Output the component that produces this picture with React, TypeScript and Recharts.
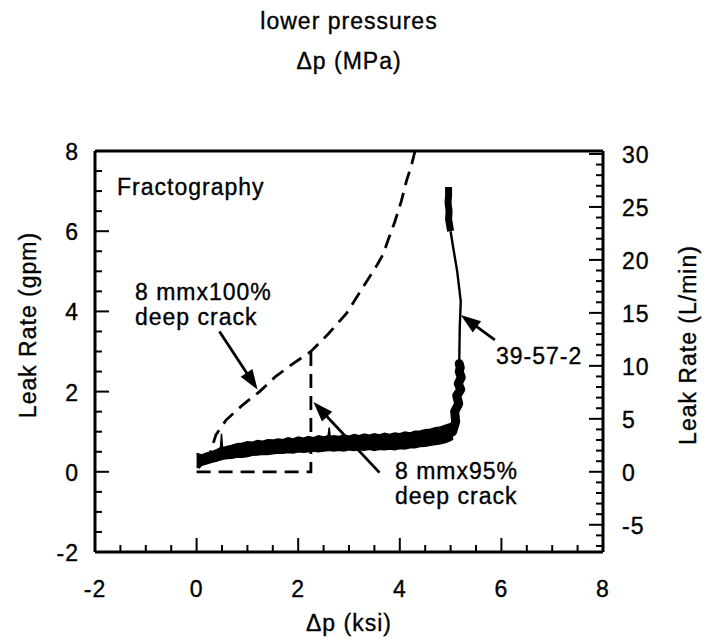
import React from 'react';
import { ComposedChart, Line, Area, XAxis, YAxis, ReferenceLine, Customized } from 'recharts';

// ---------- data (Δp in ksi, leak rate in gpm) ----------
// 39-57-2 measured leak rate: noisy band at low pressure (lower / upper edge of the band)
const bandX = [0.0, 0.05, 0.1, 0.2, 0.3, 0.4, 0.47, 0.49, 0.51, 0.6, 0.7, 0.8, 0.9, 1.0, 1.1, 1.2, 1.3, 1.4, 1.5, 1.6, 1.7, 1.8, 1.9, 2.0, 2.1, 2.2, 2.3, 2.4, 2.5, 2.59, 2.61, 2.63, 2.7, 2.8, 2.9, 3.0, 3.1, 3.2, 3.3, 3.4, 3.5, 3.6, 3.7, 3.8, 3.9, 4.0, 4.1, 4.2, 4.3, 4.4, 4.5, 4.6, 4.7, 4.8, 4.9, 5.0, 5.05];
const bandLow = [0.12, 0.1, 0.16, 0.2, 0.24, 0.27, 0.3, 0.3, 0.31, 0.33, 0.34, 0.37, 0.36, 0.38, 0.41, 0.42, 0.44, 0.43, 0.45, 0.47, 0.46, 0.48, 0.47, 0.5, 0.49, 0.5, 0.52, 0.5, 0.52, 0.53, 0.53, 0.53, 0.52, 0.54, 0.52, 0.55, 0.53, 0.55, 0.54, 0.56, 0.53, 0.56, 0.55, 0.57, 0.55, 0.58, 0.57, 0.6, 0.6, 0.63, 0.64, 0.66, 0.68, 0.7, 0.73, 0.78, 0.82];
const bandHigh = [0.46, 0.44, 0.42, 0.47, 0.5, 0.55, 0.6, 0.95, 0.6, 0.63, 0.66, 0.7, 0.71, 0.75, 0.74, 0.78, 0.76, 0.8, 0.79, 0.82, 0.8, 0.85, 0.82, 0.87, 0.84, 0.88, 0.85, 0.9, 0.87, 0.9, 1.1, 0.88, 0.9, 0.88, 0.92, 0.89, 0.93, 0.9, 0.94, 0.91, 0.95, 0.92, 0.96, 0.93, 0.97, 0.95, 0.99, 0.97, 1.01, 1.02, 1.05, 1.06, 1.1, 1.12, 1.16, 1.2, 1.15];
// steep rise near 5.1 ksi
const riseX = [5.04, 5.1, 5.08, 5.16, 5.12, 5.2, 5.15, 5.21, 5.17, 5.19, 5.17];
const riseY = [1.0, 1.25, 1.5, 1.7, 1.9, 2.05, 2.2, 2.35, 2.5, 2.6, 2.7];
// thin upper part
const upperX = [5.17, 5.18, 5.2, 5.13, 5.05, 5.0];
const upperY = [2.7, 3.6, 4.25, 5.0, 5.6, 6.0];
// top blob
const topX = [5.0, 4.96, 4.97, 4.95, 4.96, 4.96];
const topY = [6.0, 6.3, 6.5, 6.7, 6.9, 7.1];

// 8 mm x 100% deep crack (fractography)
const crack100X = [0.2, 0.3, 0.38, 0.58, 0.91, 1.24, 1.54, 1.9, 2.25, 2.6, 2.95, 3.2, 3.4, 3.55, 3.67, 3.77, 3.9, 4.03, 4.13, 4.22, 4.3];
const crack100Y = [0.2, 0.6, 0.92, 1.29, 1.67, 2.0, 2.36, 2.7, 3.0, 3.45, 3.95, 4.45, 4.85, 5.15, 5.42, 5.78, 6.23, 6.75, 7.25, 7.6, 8.0];
// 8 mm x 95% deep crack
const crack95X = [0, 2.25, 2.25];
const crack95Y = [0, 0, 3.0];

// annotation arrows [fromX, fromY, toX, toY]
const arrow100 = [0.45, 3.5, 1.2, 2.05];
const arrow95 = [3.6, -0.02, 2.3, 1.74];
const arrow39 = [5.87, 3.29, 5.2, 3.91];

// ---------- axes ----------
const ksiTicks = [-2, -1.5, -1, -0.5, 0, 0.5, 1, 1.5, 2, 2.5, 3, 3.5, 4, 4.5, 5, 5.5, 6, 6.5, 7, 7.5, 8];
const ksiMajor = [-2, 0, 2, 4, 6, 8];
const gpmTicks = [-2, -1.5, -1, -0.5, 0, 0.5, 1, 1.5, 2, 2.5, 3, 3.5, 4, 4.5, 5, 5.5, 6, 6.5, 7, 7.5, 8];
const gpmMajor = [-2, 0, 2, 4, 6, 8];
const mpaTicks = [-12, -10, -8, -6, -4, -2, 0, 2, 4, 6, 8, 10, 12, 14, 16, 18, 20, 22, 24, 26, 28, 30, 32, 34, 36, 38, 40, 42, 44, 46, 48, 50, 52, 54];
const mpaMajor = [-8, 0, 8, 16, 24, 32, 40, 48];
const lpmTicks = [-7, -6, -5, -4, -3, -2, -1, 0, 1, 2, 3, 4, 5, 6, 7, 8, 9, 10, 11, 12, 13, 14, 15, 16, 17, 18, 19, 20, 21, 22, 23, 24, 25, 26, 27, 28, 29, 30];
const lpmMajor = [-5, 0, 5, 10, 15, 20, 25, 30];

const KSI_TO_MPA = 6.895;
const GPM_TO_LPM = 3.785;

const pts = (xs: number[], ys: number[]) => xs.map((x, i) => ({ x, y: ys[i] }));
const bandData = bandX.map((x, i) => ({ x, r: [bandLow[i], bandHigh[i]] }));

// ---------- layout ----------
const W = 705, H = 642;
const PL = 95, PR = 603, PT = 151, PB = 552;
const FONT = "'Liberation Sans', Arial, sans-serif";
const txt = { fontFamily: FONT, fontSize: 23, letterSpacing: 1, fill: '#000', stroke: '#000', strokeWidth: 0.35 } as const;

const MAJ = 14, MIN = 7;

const TickBottom = (p: any) => {
  const v = p.payload.value; const x = p.x; const major = ksiMajor.includes(v);
  return (
    <g>
      <line x1={x} x2={x} y1={PB} y2={PB - (major ? MAJ : MIN)} stroke="#000" strokeWidth={2} />
      {major && <text x={x} y={597} textAnchor="middle" {...txt}>{v}</text>}
    </g>
  );
};
const TickTop = (p: any) => {
  const v = p.payload.value; const x = p.x; const major = mpaMajor.includes(v);
  return (
    <g>
      <line x1={x} x2={x} y1={PT} y2={PT + (major ? MAJ : MIN)} stroke="#000" strokeWidth={2} />
      {major && <text x={x} y={126} textAnchor="middle" {...txt}>{v}</text>}
    </g>
  );
};
const TickLeft = (p: any) => {
  const v = p.payload.value; const y = p.y; const major = gpmMajor.includes(v);
  return (
    <g>
      <line x1={PL} x2={PL + (major ? MAJ : MIN)} y1={y} y2={y} stroke="#000" strokeWidth={2} />
      {major && <text x={79} y={y + 9} textAnchor="end" {...txt}>{v}</text>}
    </g>
  );
};
const TickRight = (p: any) => {
  const v = p.payload.value; const y = p.y; const major = lpmMajor.includes(v);
  return (
    <g>
      <line x1={PR} x2={PR - (major ? MAJ : MIN)} y1={y} y2={y} stroke="#000" strokeWidth={2} />
      {major && <text x={622} y={y + 9} textAnchor="start" {...txt}>{v}</text>}
    </g>
  );
};

const ArrowShape = (p: any) => {
  const { x1, y1, x2, y2 } = p;
  const dx = x2 - x1, dy = y2 - y1;
  const len = Math.sqrt(dx * dx + dy * dy) || 1;
  const ux = dx / len, uy = dy / len;
  const hl = 20, hw = 7;
  const bx = x2 - ux * hl, by = y2 - uy * hl;
  const pts2 = `${x2},${y2} ${bx - uy * hw},${by + ux * hw} ${bx + uy * hw},${by - ux * hw}`;
  return (
    <g>
      <line x1={x1} y1={y1} x2={bx + ux * 2} y2={by + uy * 2} stroke="#000" strokeWidth={2.8} />
      <polygon points={pts2} fill="#000" />
    </g>
  );
};

const Texts = () => (
  <g>
    <text x={349} y={29} textAnchor="middle" {...txt}>lower pressures</text>
    <text x={349} y={69} textAnchor="middle" {...txt}>Δp (MPa)</text>
    <text x={349} y={631} textAnchor="middle" {...txt}>Δp (ksi)</text>
    <text transform="translate(36,325) rotate(-90)" textAnchor="middle" {...txt}>Leak Rate (gpm)</text>
    <text transform="translate(696,345) rotate(-90)" textAnchor="middle" {...txt}>Leak Rate (L/min)</text>
    <text x={117} y={195} {...txt}>Fractography</text>
    <text x={135} y={300} {...txt}>8 mmx100%</text>
    <text x={135} y={325} {...txt}>deep crack</text>
    <text x={395} y={479} {...txt}>8 mmx95%</text>
    <text x={395} y={504} {...txt}>deep crack</text>
    <text x={496} y={364} {...txt}>39-57-2</text>
  </g>
);

const seg = (a: number[]) => [{ x: a[0], y: a[1] }, { x: a[2], y: a[3] }];

export default function App() {
  return (
    <div style={{ width: W, height: H, background: '#fff' }}>
      <style>{'body{margin:0;background:#fff}'}</style>
      <ComposedChart width={W} height={H} margin={{ top: 0, right: 0, bottom: 0, left: 0 }}>
        <XAxis xAxisId="b" dataKey="x" type="number" orientation="bottom" domain={[-2, 8]} ticks={ksiTicks}
          height={H - PB} tick={TickBottom} tickLine={false} tickSize={0} interval={0}
          axisLine={{ stroke: '#000', strokeWidth: 3 }} allowDataOverflow />
        <XAxis xAxisId="t" type="number" orientation="top" domain={[-2 * KSI_TO_MPA, 8 * KSI_TO_MPA]} ticks={mpaTicks}
          height={PT} tick={TickTop} tickLine={false} tickSize={0} interval={0}
          axisLine={{ stroke: '#000', strokeWidth: 3 }} allowDataOverflow />
        <YAxis yAxisId="l" type="number" orientation="left" domain={[-2, 8]} ticks={gpmTicks}
          width={PL} tick={TickLeft} tickLine={false} tickSize={0} interval={0}
          axisLine={{ stroke: '#000', strokeWidth: 3 }} allowDataOverflow />
        <YAxis yAxisId="r" type="number" orientation="right" domain={[-2 * GPM_TO_LPM, 8 * GPM_TO_LPM]} ticks={lpmTicks}
          width={W - PR} tick={TickRight} tickLine={false} tickSize={0} interval={0}
          axisLine={{ stroke: '#000', strokeWidth: 3 }} allowDataOverflow />

        <Line xAxisId="b" yAxisId="l" data={pts(crack95X, crack95Y)} dataKey="y" type="linear" stroke="#000"
          strokeWidth={2.8} strokeDasharray="14 8" dot={false} isAnimationActive={false} />
        <Line xAxisId="b" yAxisId="l" data={pts(crack100X, crack100Y)} dataKey="y" type="linear" stroke="#000"
          strokeWidth={2.8} strokeDasharray="14 8" dot={false} isAnimationActive={false} />
        <Area xAxisId="b" yAxisId="l" data={bandData} dataKey="r" type="linear" stroke="#000" strokeWidth={1.5}
          fill="#000" fillOpacity={1} dot={false} activeDot={false} isAnimationActive={false} />
        <Line xAxisId="b" yAxisId="l" data={pts(riseX, riseY)} dataKey="y" type="linear" stroke="#000"
          strokeWidth={9} strokeLinejoin="round" strokeLinecap="round" dot={false} isAnimationActive={false} />
        <Line xAxisId="b" yAxisId="l" data={pts(upperX, upperY)} dataKey="y" type="linear" stroke="#000"
          strokeWidth={2.4} dot={false} isAnimationActive={false} />
        <Line xAxisId="b" yAxisId="l" data={pts(topX, topY)} dataKey="y" type="linear" stroke="#000"
          strokeWidth={7} strokeLinejoin="round" dot={false} isAnimationActive={false} />

        <ReferenceLine xAxisId="b" yAxisId="l" segment={seg(arrow100)} shape={ArrowShape} ifOverflow="visible" />
        <ReferenceLine xAxisId="b" yAxisId="l" segment={seg(arrow95)} shape={ArrowShape} ifOverflow="visible" />
        <ReferenceLine xAxisId="b" yAxisId="l" segment={seg(arrow39)} shape={ArrowShape} ifOverflow="visible" />

        <Customized component={Texts} />
      </ComposedChart>
    </div>
  );
}
